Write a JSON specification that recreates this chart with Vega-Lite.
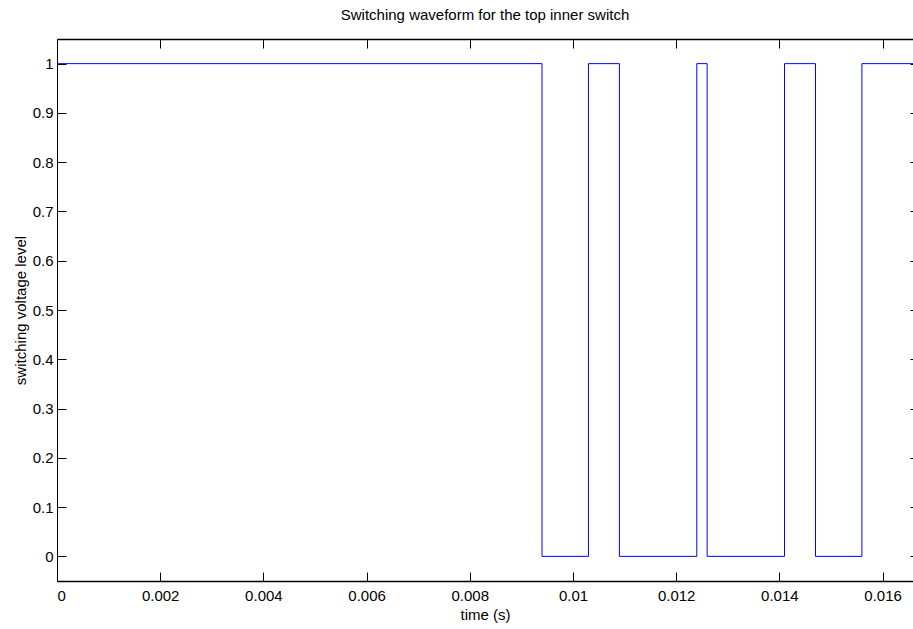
{
  "$schema": "https://vega.github.io/schema/vega-lite/v6.json",
  "autosize": "none",
  "width": 856,
  "height": 542,
  "padding": {"left": 57, "top": 39, "right": 0, "bottom": 48},
  "background": "white",
  "config": {
    "view": {"stroke": null},
    "font": "Liberation Sans",
    "axis": {"grid": false, "domainColor": "black", "tickColor": "black", "labelColor": "black", "titleColor": "black", "labelFont": "Liberation Sans", "titleFont": "Liberation Sans", "labelFontSize": 15, "titleFontSize": 15, "titleFontWeight": "normal"}
  },
  "title": {"text": "Switching waveform for the top inner switch", "fontSize": 15, "fontWeight": "normal", "font": "Liberation Sans", "color": "black", "anchor": "middle", "offset": 16},
  "data": {"values": [
    {"t": 0, "v": 1},
    {"t": 0.0094, "v": 0},
    {"t": 0.0103, "v": 1},
    {"t": 0.0109, "v": 0},
    {"t": 0.0124, "v": 1},
    {"t": 0.0126, "v": 0},
    {"t": 0.0141, "v": 1},
    {"t": 0.0147, "v": 0},
    {"t": 0.0156, "v": 1},
    {"t": 0.0166, "v": 1}
  ]},
  "layer": [
    {
      "mark": {"type": "line", "interpolate": "step-after", "color": "#0000ff", "strokeWidth": 1, "clip": true},
      "encoding": {
        "x": {"field": "t", "type": "quantitative", "scale": {"domain": [0, 0.01659], "nice": false, "zero": false},
              "axis": {"orient": "bottom", "title": "time (s)", "values": [0, 0.002, 0.004, 0.006, 0.008, 0.01, 0.012, 0.014, 0.016], "format": "~g", "tickSize": -9, "labelPadding": 16, "titlePadding": 4, "domainWidth": 1.5}},
        "y": {"field": "v", "type": "quantitative", "scale": {"domain": [-0.05, 1.05], "nice": false, "zero": false},
              "axis": {"orient": "left", "title": "switching voltage level", "values": [0, 0.1, 0.2, 0.3, 0.4, 0.5, 0.6, 0.7, 0.8, 0.9, 1], "format": "~g", "tickSize": -9, "labelPadding": 13, "titlePadding": 4, "domainWidth": 1}}
      }
    },
    {
      "mark": {"type": "line", "strokeOpacity": 0, "clip": true},
      "encoding": {
        "x": {"field": "t", "type": "quantitative", "axis": {"orient": "top", "title": null, "labels": false, "values": [0, 0.002, 0.004, 0.006, 0.008, 0.01, 0.012, 0.014, 0.016], "tickSize": -9, "domainWidth": 1.5}},
        "y": {"field": "v", "type": "quantitative", "axis": {"orient": "right", "title": null, "labels": false, "values": [0, 0.1, 0.2, 0.3, 0.4, 0.5, 0.6, 0.7, 0.8, 0.9, 1], "tickSize": -9, "offset": 6}}
      }
    }
  ],
  "resolve": {"axis": {"x": "independent", "y": "independent"}}
}
